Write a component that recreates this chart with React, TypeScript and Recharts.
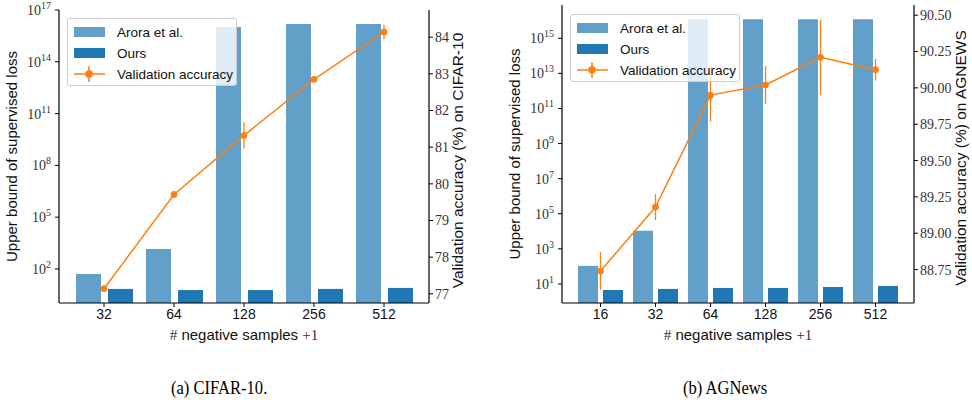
import React from 'react';
import {
  ComposedChart,
  Bar,
  Line,
  XAxis,
  YAxis,
  ErrorBar,
  Legend,
  Label,
} from 'recharts';

// --- DATA ---
const cifarSamples = ['32', '64', '128', '256', '512'];
const cifarArora = [51, 1450, 1.05e16, 1.55e16, 1.55e16];
const cifarOurs = [7, 6, 6, 7, 8];
const cifarAcc = [77.14, 79.71, 81.32, 82.85, 84.14];
const cifarAccErr = [0.04, 0.05, 0.36, 0.05, 0.2];
const cifarLossTicks = [1e2, 1e5, 1e8, 1e11, 1e14, 1e17];
const cifarAccTicks = [77, 78, 79, 80, 81, 82, 83, 84];

const agSamples = ['16', '32', '64', '128', '256', '512'];
const agArora = [107, 1.07e4, 1.2e16, 1.2e16, 1.2e16, 1.2e16];
const agOurs = [4.5, 5.2, 5.9, 5.9, 6.7, 7.7];
const agAcc = [88.74, 89.18, 89.95, 90.02, 90.21, 90.125];
const agAccErr = [0.13, 0.09, 0.18, 0.13, 0.26, 0.075];
const agLossTicks = [1e1, 1e3, 1e5, 1e7, 1e9, 1e11, 1e13, 1e15];
const agAccTicks = [88.75, 89.0, 89.25, 89.5, 89.75, 90.0, 90.25, 90.5];

// --- STYLES ---
const COLORS = {
  arora: '#62a0ca',
  ours: '#1f77b4',
  acc: '#ff7f0e',
  axis: '#000',
  tickText: '#333',
};
const SERIF = '"Liberation Serif", "DejaVu Serif", serif';
const SANS = '"Liberation Sans", "DejaVu Sans", sans-serif';

// 10^n tick for the log axis
const PowerTick = ({ x, y, payload }: any) => {
  const exp = Math.round(Math.log10(payload.value));
  return (
    <text x={x - 2} y={y + 5} textAnchor="end" fill={COLORS.tickText} fontFamily={SERIF} fontSize={14}>
      <tspan>10</tspan>
      <tspan dy={-6} fontSize={10}>{exp}</tspan>
    </text>
  );
};

const LegendBox = ({ left, top }: { left: number; top: number }) => (
  <div
    style={{
      position: 'absolute',
      left,
      top,
      width: 168,
      height: 66,
      background: 'rgba(255,255,255,0.8)',
      border: '1px solid #ccc',
      borderRadius: 3,
      fontFamily: SANS,
      fontSize: 13.5,
      color: '#111',
    }}
  >
    {[
      { name: 'Arora et al.', kind: 'bar', color: COLORS.arora },
      { name: 'Ours', kind: 'bar', color: COLORS.ours },
      { name: 'Validation accuracy', kind: 'line', color: COLORS.acc },
    ].map((it, i) => (
      <div key={it.name} style={{ position: 'absolute', left: 5, top: 4 + i * 21, height: 18, display: 'flex', alignItems: 'center' }}>
        <svg width={32} height={18}>
          {it.kind === 'bar' ? (
            <rect x={1} y={4} width={31} height={10} fill={it.color} />
          ) : (
            <g stroke={it.color} strokeWidth={1.5}>
              <line x1={1} y1={9} x2={32} y2={9} />
              <line x1={16} y1={1} x2={16} y2={17} />
              <circle cx={16} cy={9} r={3} fill={it.color} />
            </g>
          )}
        </svg>
        <span style={{ marginLeft: 12 }}>{it.name}</span>
      </div>
    ))}
  </div>
);

interface PanelProps {
  samples: string[];
  arora: number[];
  ours: number[];
  acc: number[];
  accErr: number[];
  lossTicks: number[];
  lossDomain: [number, number];
  accTicks: number[];
  accDomain: [number, number];
  accDigits: number;
  accLabel: string;
  width: number;
  top: number;
  leftAxisW: number;
  rightAxisW: number;
  xPad: number;
  barSize: number;
  barGap: number;
  leftLabelX: number;
  rightLabelX: number;
  legendLeft: number;
  legendTop: number;
}

const Panel = (p: PanelProps) => {
  const data = p.samples.map((n, i) => ({
    n,
    arora: p.arora[i],
    ours: p.ours[i],
    acc: p.acc[i],
    err: p.accErr[i],
  }));
  const height = 360;
  return (
    <div style={{ position: 'relative', width: p.width, height }}>
      <ComposedChart
        width={p.width}
        height={height}
        data={data}
        margin={{ top: p.top, right: 0, left: 0, bottom: 17 }}
        barGap={p.barGap}
      >
        <XAxis
          dataKey="n"
          padding={{ left: p.xPad, right: p.xPad }}
          tick={{ fill: '#111', fontFamily: SANS, fontSize: 14 }}
          tickSize={4}
          tickLine={{ stroke: COLORS.axis }}
          axisLine={{ stroke: COLORS.axis, strokeWidth: 1.2 }}
          height={40}
        >
          <Label
            content={({ viewBox }: any) => (
              <text
                x={viewBox.x + viewBox.width / 2}
                y={viewBox.y + 37}
                textAnchor="middle"
                fontSize={15}
                fill="#111"
              >
                <tspan fontFamily={SERIF} fill={COLORS.tickText}>#</tspan>
                <tspan fontFamily={SANS}> negative samples </tspan>
                <tspan fontFamily={SERIF} fill={COLORS.tickText}>+1</tspan>
              </text>
            )}
          />
        </XAxis>
        <XAxis
          xAxisId="top"
          dataKey="n"
          orientation="top"
          height={0}
          tick={false}
          tickLine={false}
          axisLine={{ stroke: COLORS.axis, strokeWidth: 1.2 }}
        />
        <YAxis
          yAxisId="loss"
          scale="log"
          domain={p.lossDomain}
          ticks={p.lossTicks}
          allowDataOverflow
          width={p.leftAxisW}
          tick={<PowerTick />}
          tickSize={4}
          tickLine={{ stroke: COLORS.axis }}
          axisLine={{ stroke: COLORS.axis, strokeWidth: 1.2 }}
        >
          <Label
            content={({ viewBox }: any) => {
              const cx = p.leftLabelX;
              const cy = viewBox.y + viewBox.height / 2;
              return (
                <text x={cx} y={cy} transform={`rotate(-90 ${cx} ${cy})`} textAnchor="middle" fontFamily={SANS} fontSize={15} fill="#111">
                  Upper bound of supervised loss
                </text>
              );
            }}
          />
        </YAxis>
        <YAxis
          yAxisId="acc"
          orientation="right"
          domain={p.accDomain}
          ticks={p.accTicks}
          allowDataOverflow
          width={p.rightAxisW}
          tickFormatter={(v: number) => v.toFixed(p.accDigits)}
          tick={{ fill: COLORS.tickText, fontFamily: SERIF, fontSize: 14 }}
          tickSize={4}
          tickLine={{ stroke: COLORS.axis }}
          axisLine={{ stroke: COLORS.axis, strokeWidth: 1.2 }}
        >
          <Label
            content={({ viewBox }: any) => {
              const cx = p.rightLabelX;
              const cy = viewBox.y + viewBox.height / 2 + 4;
              return (
                <text x={cx} y={cy} transform={`rotate(-90 ${cx} ${cy})`} textAnchor="middle" fontFamily={SANS} fontSize={15.5} fill="#111">
                  {p.accLabel}
                </text>
              );
            }}
          />
        </YAxis>
        <Bar yAxisId="loss" dataKey="arora" name="Arora et al." fill={COLORS.arora} barSize={p.barSize} isAnimationActive={false} />
        <Bar yAxisId="loss" dataKey="ours" name="Ours" fill={COLORS.ours} barSize={p.barSize} isAnimationActive={false} />
        <Line
          yAxisId="acc"
          type="linear"
          dataKey="acc"
          name="Validation accuracy"
          stroke={COLORS.acc}
          strokeWidth={1.5}
          dot={{ r: 3, fill: COLORS.acc, stroke: COLORS.acc, strokeWidth: 1 }}
          isAnimationActive={false}
        >
          <ErrorBar dataKey="err" direction="y" width={0} stroke={COLORS.acc} strokeWidth={1.3} />
        </Line>
        <Legend content={() => null} />
      </ComposedChart>
      <LegendBox left={p.legendLeft} top={p.legendTop} />
    </div>
  );
};

export default function App() {
  return (
    <div style={{ position: 'absolute', left: 0, top: 0, width: 972, height: 400, background: '#fff' }}>
      <div style={{ position: 'absolute', left: 0, top: 0 }}>
        <Panel
          samples={cifarSamples}
          arora={cifarArora}
          ours={cifarOurs}
          acc={cifarAcc}
          accErr={cifarAccErr}
          lossTicks={cifarLossTicks}
          lossDomain={[1.07, 1e17]}
          accTicks={cifarAccTicks}
          accDomain={[76.75, 84.74]}
          accDigits={0}
          accLabel="Validation accuracy (%) on CIFAR-10"
          width={480}
          top={10}
          leftAxisW={59}
          rightAxisW={51}
          xPad={10}
          barSize={25}
          barGap={7}
          leftLabelX={17}
          rightLabelX={463}
          legendLeft={67}
          legendTop={18}
        />
      </div>
      <div style={{ position: 'absolute', left: 486, top: 0 }}>
        <Panel
          samples={agSamples}
          arora={agArora}
          ours={agOurs}
          acc={agAcc}
          accErr={agAccErr}
          lossTicks={agLossTicks}
          lossDomain={[0.82, 7.9e16]}
          accTicks={agAccTicks}
          accDomain={[88.52, 90.57]}
          accDigits={2}
          accLabel="Validation accuracy (%) on AGNEWS"
          width={486}
          top={5}
          leftAxisW={76}
          rightAxisW={58}
          xPad={11}
          barSize={20}
          barGap={5}
          leftLabelX={34}
          rightLabelX={480}
          legendLeft={84}
          legendTop={14}
        />
      </div>
      <div style={{ position: 'absolute', left: 171, top: 378, fontFamily: SERIF, fontSize: 18, color: '#000', whiteSpace: 'nowrap', transform: 'scaleX(0.92)', transformOrigin: 'left' }}>
        (a) CIFAR-10.
      </div>
      <div style={{ position: 'absolute', left: 683, top: 378, fontFamily: SERIF, fontSize: 18, color: '#000', whiteSpace: 'nowrap', transform: 'scaleX(0.92)', transformOrigin: 'left' }}>
        (b) AGNews
      </div>
    </div>
  );
}
